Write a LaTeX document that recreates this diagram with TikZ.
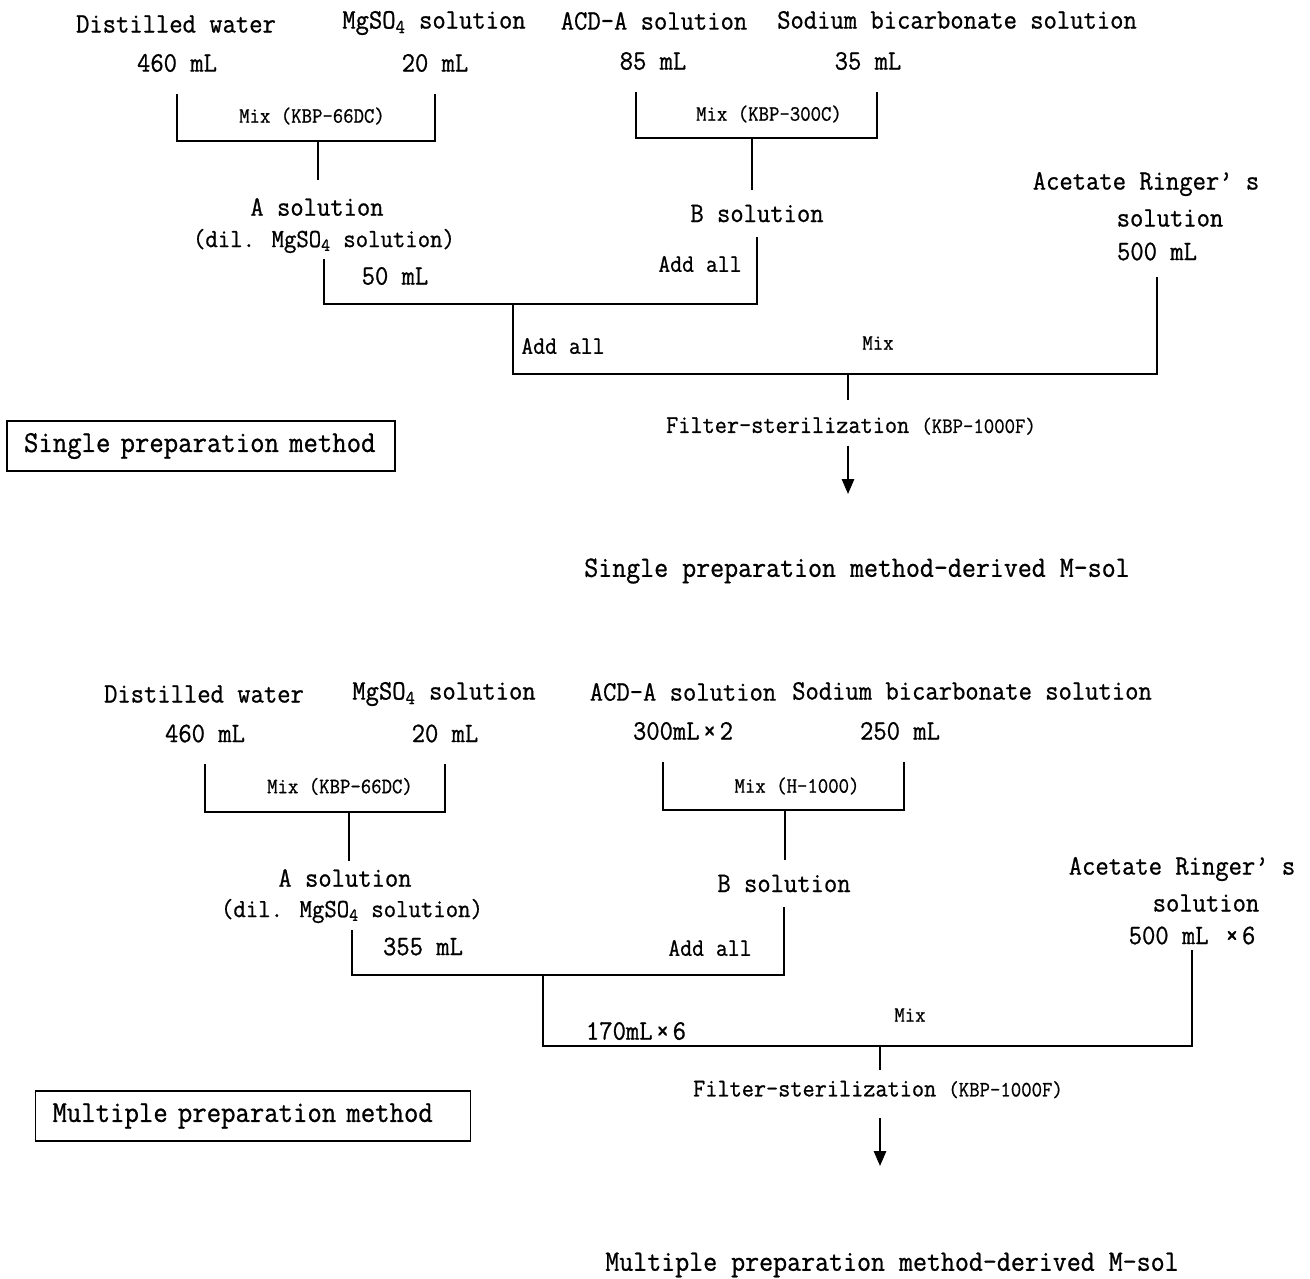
\documentclass[tikz,border=0pt]{standalone}
\usepackage{fontspec}
\setmainfont{Latin Modern Mono}[FakeStretch=0.92, FakeBold=0.8]
\usetikzlibrary{arrows.meta}
\newcommand{\wtimes}{\kern0.12em×\kern0.12em}

\begin{document}
\begin{tikzpicture}[x=0.02cm, y=-0.02cm,
  lbl/.style={inner sep=1pt, font=\fontsize{16}{19}\selectfont},
  dil/.style={inner sep=1pt, font=\fontsize{14.9}{18}\selectfont},
  msol/.style={inner sep=1pt, font=\fontsize{16.8}{20}\selectfont},
  addlbl/.style={inner sep=1pt, font=\fontsize{14.3}{17}\selectfont},
  mixlbl/.style={inner sep=1pt, font=\fontsize{12.5}{15}\selectfont},
  filt/.style={inner sep=1pt, font=\fontsize{14.6}{17}\selectfont},
  methodbox/.style={draw, line width=1pt, inner xsep=0.34cm, minimum height=1cm, align=left, font=\fontsize{17.3}{20}\selectfont},
  link/.style={line width=1pt},
  flow/.style={line width=1pt, -{Triangle[length=8.5pt, width=7pt]}}]
\useasboundingbox (0,0) rectangle (1310,1278);

% single preparation
\node[lbl] (sWater) at (176,24) {Distilled water};
\node[lbl] (sMg) at (434,23) {MgSO\textsubscript{4} solution};
\node[lbl] (sAcd) at (654,21) {ACD-A solution};
\node[lbl] (sBic) at (957,20) {Sodium bicarbonate solution};
\node[lbl] (sWaterV) at (177,63) {460 mL};
\node[lbl] (sMgV) at (435,63) {20 mL};
\node[lbl] (sAcdV) at (653,61) {85 mL};
\node[lbl] (sBicV) at (868,61) {35 mL};
\node[mixlbl] (sMixA) at (312,116) {Mix (KBP-66DC)};
\node[mixlbl] (sMixB) at (769,114) {Mix (KBP-300C)};
\node[lbl] (sSolA) at (317,207) {A solution};
\node[dil] (sDilA) at (324,241) {(dil. MgSO\textsubscript{4} solution)};
\node[lbl] (sVolA) at (395,276) {50 mL};
\node[lbl] (sSolB) at (757,213.5) {B solution};
\node[addlbl] (sAddB) at (700,264) {Add all};
\node[lbl] (sRing) at (1146,184) {Acetate Ringer’ s};
\node[lbl] (sRingS) at (1170,218) {solution};
\node[lbl] (sRingV) at (1157,251.5) {500 mL};
\node[addlbl] (sAddAll) at (563,346) {Add all};
\node[mixlbl] (sMix) at (878,343) {Mix};
\node[filt] (sFilter) at (851,426) {Filter-sterilization {\fontsize{12.5}{15}\selectfont(KBP-1000F)}};
\node[msol] (sMsol) at (857,571) {Single preparation method-derived M-sol};
\node[methodbox, text width=7.08cm] (sMethod) at (201,446) {Single preparation method};

\coordinate (sAj) at (318,141);
\coordinate (sBj) at (752,138);
\coordinate (sJoin) at (513,304);
\coordinate (sMixJ) at (848,374);
\coordinate (sTip) at (848,494);

\draw[link, shorten <=11.5pt, shorten >=11.5pt] (sWaterV.south) |- (sAj) -| (sMgV.south);
\draw[link, shorten <=11.5pt, shorten >=11.5pt] ([xshift=-0.34cm]sAcdV.south) |- (sBj) -| ([xshift=0.18cm]sBicV.south);
\draw[link, shorten >=9pt] (sAj) -- (sAj |- sSolA.north);
\draw[link, shorten >=7pt] (sBj) -- (sBj |- sSolB.north);
\draw[link, shorten <=2pt, shorten >=7pt] (sDilA.south) |- (sJoin) -| (sSolB.south);
\draw[link, shorten >=8.5pt] (sJoin) |- (sMixJ) -| (sRingV.south);
\draw[link, shorten >=8.5pt] (sMixJ) -- (sMixJ |- sFilter.north);
\draw[flow, shorten <=5pt] (sMixJ |- sFilter.south) -- (sTip);

% multiple preparation
\node[lbl] (mWater) at (204,694) {Distilled water};
\node[lbl] (mMg) at (444,694) {MgSO\textsubscript{4} solution};
\node[lbl] (mAcd) at (683,692) {ACD-A solution};
\node[lbl] (mBic) at (972,691) {Sodium bicarbonate solution};
\node[lbl] (mWaterV) at (205,733.5) {460 mL};
\node[lbl] (mMgV) at (445,733.5) {20 mL};
\node[lbl] (mAcdV) at (683,731) {300mL\wtimes 2};
\node[lbl] (mBicV) at (900,731) {250 mL};
\node[mixlbl] (mMixA) at (340,786.5) {Mix (KBP-66DC)};
\node[mixlbl] (mMixB) at (797,786) {Mix (H-1000)};
\node[lbl] (mSolA) at (345,878) {A solution};
\node[dil] (mDilA) at (352,911) {(dil. MgSO\textsubscript{4} solution)};
\node[lbl] (mVolA) at (423,946.5) {355 mL};
\node[lbl] (mSolB) at (784,883.5) {B solution};
\node[addlbl] (mAddB) at (710,948) {Add all};
\node[lbl] (mRing) at (1182,869) {Acetate Ringer’ s};
\node[lbl] (mRingS) at (1206,903) {solution};
\node[lbl] (mRingV) at (1192,935.5) {500 mL \wtimes 6};
\node[lbl] (mAddAll) at (636,1031) {170mL\wtimes 6};
\node[mixlbl] (mMix) at (910,1015) {Mix};
\node[filt] (mFilter) at (878,1089.5) {Filter-sterilization {\fontsize{12.5}{15}\selectfont(KBP-1000F)}};
\node[msol] (mMsol) at (892,1265) {Multiple preparation method-derived M-sol};
\node[methodbox, text width=8.02cm] (mMethod) at (253,1116) {Multiple preparation method};

\coordinate (mAj) at (349,812);
\coordinate (mBj) at (785,810);
\coordinate (mJoin) at (543,975);
\coordinate (mMixJ) at (880,1046);
\coordinate (mTip) at (880,1166);

\draw[link, shorten <=11.3pt, shorten >=11.3pt] (mWaterV.south) |- (mAj) -| (mMgV.south);
\draw[link, shorten <=11.3pt, shorten >=11.3pt] ([xshift=-0.4cm]mAcdV.south) |- (mBj) -| ([xshift=0.08cm]mBicV.south);
\draw[link, shorten >=3.4pt] (mAj) -- (mAj |- mSolA.north);
\draw[link, shorten >=7pt] (mBj) -- (mBj |- mSolB.north);
\draw[link, shorten <=3pt, shorten >=7pt] (mDilA.south) |- (mJoin) -| (mSolB.south);
\draw[link, shorten >=2pt] (mJoin) |- (mMixJ) -| (mRingV.south);
\draw[link, shorten >=5pt] (mMixJ) -- (mMixJ |- mFilter.north);
\draw[flow, shorten <=10pt] (mMixJ |- mFilter.south) -- (mTip); % to M-sol
\end{tikzpicture}
\end{document}
